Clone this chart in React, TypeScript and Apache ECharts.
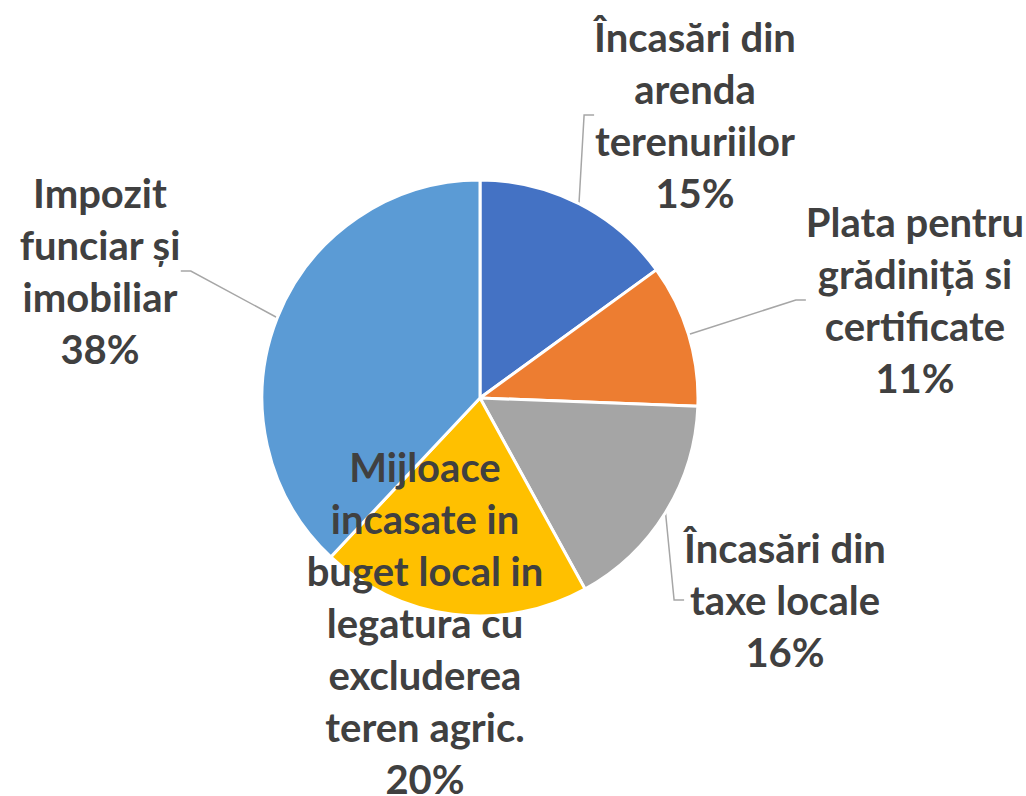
import React, { useEffect, useRef } from "react";
import * as echarts from "echarts";

const categories = [
  "Încasări din\narenda\nterenuriilor",
  "Plata pentru\ngrădiniță si\ncertificate",
  "Încasări din\ntaxe locale",
  "Mijloace\nincasate in\nbuget local in\nlegatura cu\nexcluderea\nteren agric.",
  "Impozit\nfunciar și\nimobiliar",
];
const values = [15, 10.6, 16.4, 20, 38];
const colors = ["#4472C4", "#ED7D31", "#A5A5A5", "#FFC000", "#5B9BD5"];
const labelPos: [number, number][] = [
  [695, 115],
  [915, 300],
  [785, 600],
  [425, 623],
  [100, 271],
];

export default function App() {
  const ref = useRef<HTMLDivElement>(null);
  useEffect(() => {
    if (!ref.current) return;
    const chart = echarts.init(ref.current, undefined, { renderer: "svg" });
    chart.setOption({
      animation: false,
      backgroundColor: "#ffffff",
      series: [
        {
          type: "pie",
          center: [480, 398],
          radius: [0, 218],
          startAngle: 90,
          clockwise: true,
          percentPrecision: 0,
          itemStyle: { borderColor: "#ffffff", borderWidth: 3 },
          label: {
            show: true,
            formatter: "{b}\n{d}%",
            fontFamily: "Lato, 'Liberation Sans', sans-serif",
            fontWeight: "bold",
            fontSize: 40,
            lineHeight: 52,
            color: "#404040",
            align: "center",
          },
          labelLine: {
            show: true,
            length: 10,
            length2: 10,
            lineStyle: { color: "#A6A6A6", width: 1.5 },
          },
          labelLayout: (params: any) => {
            const p = labelPos[params.dataIndex];
            return { x: p[0], y: p[1], align: "center", verticalAlign: "middle" };
          },
          data: categories.map((name, i) => ({
            name,
            value: values[i],
            itemStyle: { color: colors[i] },
            ...(i === 3 ? { labelLine: { show: false }, label: { position: "inside" } } : {}),
          })),
        },
      ],
    });
    return () => chart.dispose();
  }, []);
  return (
    <div
      ref={ref}
      style={{ position: "absolute", left: 0, top: 0, width: 1026, height: 796 }}
    />
  );
}
